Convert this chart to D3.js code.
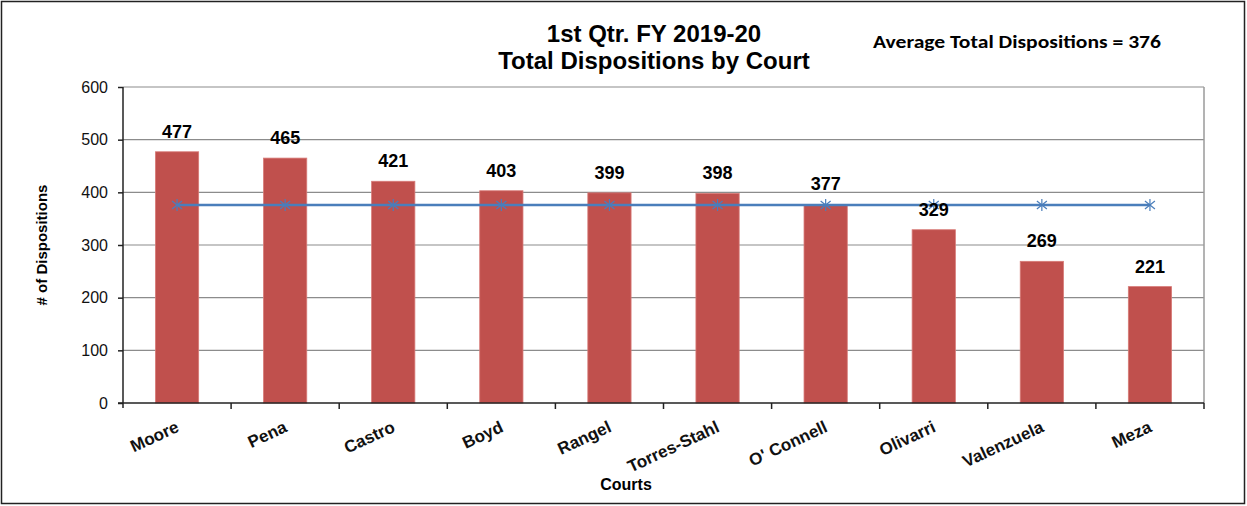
<!DOCTYPE html>
<html>
<head>
<meta charset="utf-8">
<script src="https://cdn.jsdelivr.net/npm/d3@7"></script>
<style>
  body { margin: 0; background: #fff; }
  svg { display: block; font-family: Arial, "Liberation Sans", sans-serif; }
</style>
</head>
<body>
<svg id="chart" width="1247" height="506"></svg>
<script>
// data
var courts = ["Moore", "Pena", "Castro", "Boyd", "Rangel", "Torres-Stahl", "O' Connell", "Olivarri", "Valenzuela", "Meza"];
var dispositions = [477, 465, 421, 403, 399, 398, 377, 329, 269, 221];
var averageValue = 376;
var yTicks = [0, 100, 200, 300, 400, 500, 600];
var titleLines = ["1st Qtr. FY 2019-20", "Total Dispositions by Court"];

var svg = d3.select("#chart");

// outer frame
svg.append("rect")
    .attr("x", 1.5).attr("y", 1.5)
    .attr("width", 1243).attr("height", 502)
    .attr("fill", "none")
    .attr("stroke", "#222")
    .attr("stroke-width", 1.5);

var plot = {left: 123, right: 1204, top: 87, bottom: 403};

var x = d3.scaleBand()
    .domain(courts)
    .range([plot.left, plot.right])
    .paddingInner(0.6)
    .paddingOuter(0.3);

var xBand = d3.scaleBand()
    .domain(courts)
    .range([plot.left, plot.right]);

var y = d3.scaleLinear()
    .domain([0, 600])
    .range([plot.bottom, plot.top]);

// gridlines
svg.append("g")
    .selectAll("line")
    .data(yTicks.slice(1))
    .join("line")
    .attr("x1", plot.left).attr("x2", plot.right)
    .attr("y1", function(d){ return y(d); })
    .attr("y2", function(d){ return y(d); })
    .attr("stroke", "#8c8c8c")
    .attr("stroke-width", 1.2);

// right border of plot area
svg.append("line")
    .attr("x1", plot.right).attr("x2", plot.right)
    .attr("y1", plot.top).attr("y2", plot.bottom)
    .attr("stroke", "#9a9a9a")
    .attr("stroke-width", 1.5);

// bars
svg.append("g")
    .selectAll("rect")
    .data(dispositions)
    .join("rect")
    .attr("x", function(d, i){ return x(courts[i]); })
    .attr("y", function(d){ return y(d); })
    .attr("width", x.bandwidth())
    .attr("height", function(d){ return y(0) - y(d); })
    .attr("fill", "#C0504D")
    .attr("stroke", "#d77a77")
    .attr("stroke-width", 0.8);

// y axis
var yAxis = d3.axisLeft(y)
    .tickValues(yTicks)
    .tickSize(5)
    .tickPadding(10)
    .tickFormat(d3.format("d"));

var gy = svg.append("g")
    .attr("transform", "translate(" + plot.left + ",0)")
    .call(yAxis);
gy.select(".domain").attr("stroke", "#222").attr("stroke-width", 1.5).attr("d", "M0," + (plot.top) + "V" + (plot.bottom + 5));
gy.selectAll(".tick line").attr("stroke", "#222").attr("stroke-width", 1.5);
gy.selectAll(".tick text")
    .attr("font-size", 16)
    .attr("font-family", "Arial, 'Liberation Sans', sans-serif")
    .attr("fill", "#111");

// x axis (ticks at category boundaries)
var gx = svg.append("g")
    .attr("transform", "translate(0," + plot.bottom + ")");
gx.append("line")
    .attr("x1", plot.left - 5).attr("x2", plot.right)
    .attr("y1", 0).attr("y2", 0)
    .attr("stroke", "#222").attr("stroke-width", 1.5);
gx.selectAll("line.tk")
    .data(courts.slice(1).concat(["end"]))
    .join("line")
    .attr("class", "tk")
    .attr("x1", function(d){ return d === "end" ? plot.right : xBand(d); })
    .attr("x2", function(d){ return d === "end" ? plot.right : xBand(d); })
    .attr("y1", 0).attr("y2", 6)
    .attr("stroke", "#222").attr("stroke-width", 1.5);

gx.selectAll("text")
    .data(courts)
    .join("text")
    .attr("transform", function(d){
        var cx = xBand(d) + xBand.bandwidth() / 2 + 3;
        return "translate(" + cx + ",28) rotate(-25)";
    })
    .attr("text-anchor", "end")
    .attr("font-size", 17)
    .attr("font-weight", "bold")
    .attr("fill", "#111")
    .text(function(d){ return d; });

// average line with star markers
var avgPoints = courts.map(function(c){ return [xBand(c) + xBand.bandwidth() / 2, y(averageValue)]; });

svg.append("path")
    .attr("d", d3.line()(avgPoints))
    .attr("fill", "none")
    .attr("stroke", "#4A7EBB")
    .attr("stroke-width", 2.5);

var star = svg.append("g").selectAll("g")
    .data(avgPoints)
    .join("g")
    .attr("transform", function(d){ return "translate(" + d[0] + "," + d[1] + ")"; });
[[0, -6, 0, 6], [-5, -4, 5, 4], [-5, 4, 5, -4]].forEach(function(s){
    star.append("line")
        .attr("x1", s[0]).attr("y1", s[1]).attr("x2", s[2]).attr("y2", s[3])
        .attr("stroke", "#4A7EBB")
        .attr("stroke-width", 1.2);
});

// value labels
svg.append("g")
    .selectAll("text")
    .data(dispositions)
    .join("text")
    .attr("x", function(d, i){ return xBand(courts[i]) + xBand.bandwidth() / 2; })
    .attr("y", function(d){ return y(d) - 14; })
    .attr("text-anchor", "middle")
    .attr("font-size", 18)
    .attr("font-weight", "bold")
    .attr("fill", "#000")
    .text(function(d){ return d; });

// titles
svg.append("text")
    .attr("text-anchor", "middle")
    .attr("font-size", 24)
    .attr("font-weight", "bold")
    .attr("fill", "#000")
    .selectAll("tspan")
    .data(titleLines)
    .join("tspan")
    .attr("x", 654)
    .attr("y", function(d, i){ return 42 + i * 27; })
    .text(function(d){ return d; });

svg.append("text")
    .attr("x", 873)
    .attr("y", 48)
    .attr("font-family", "Carlito, Lato, 'Open Sans', sans-serif")
    .attr("font-size", 17)
    .attr("font-weight", "bold")
    .attr("fill", "#000")
    .attr("textLength", 288)
    .attr("lengthAdjust", "spacingAndGlyphs")
    .text("Average Total Dispositions = " + averageValue);

// axis titles
svg.append("text")
    .attr("transform", "translate(47," + ((plot.top + plot.bottom) / 2) + ") rotate(-90)")
    .attr("text-anchor", "middle")
    .attr("font-size", 15)
    .attr("font-weight", "bold")
    .attr("fill", "#000")
    .text("# of Dispositions");

svg.append("text")
    .attr("x", 626)
    .attr("y", 490)
    .attr("text-anchor", "middle")
    .attr("font-size", 16)
    .attr("font-weight", "bold")
    .attr("fill", "#000")
    .text("Courts");
</script>
</body>
</html>
